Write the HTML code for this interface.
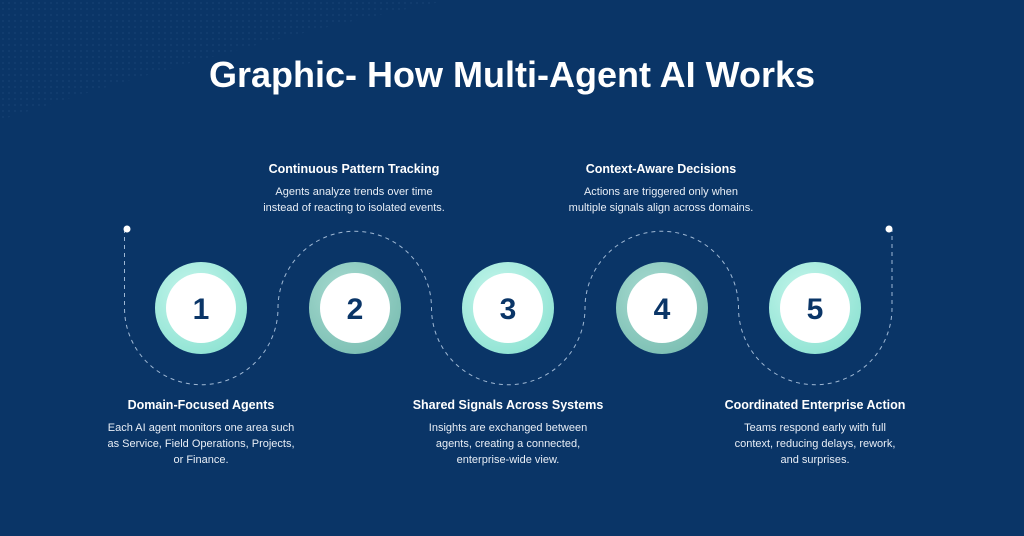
<!DOCTYPE html>
<html><head><style>
body{margin:0;width:1024px;height:536px;overflow:hidden;background:#0a3567;font-family:"Liberation Sans",sans-serif;position:relative}
.t{position:absolute;color:#fff;text-align:center;width:260px}
.t b{display:block;font-size:12.5px;margin-bottom:8px}
.t span{font-size:11px;line-height:16px;color:#e8eef6;display:block}
h1{position:absolute;top:54px;left:0;width:1024px;text-align:center;color:#fff;font-size:36px;margin:0;font-weight:bold}
</style></head><body>
<svg width="1024" height="536" style="position:absolute;left:0;top:0">
<defs>
<radialGradient id="g1" cx="0.4" cy="0.35" r="0.7"><stop offset="0" stop-color="#c6f6ec"/><stop offset="1" stop-color="#8fe3d3"/></radialGradient>
<radialGradient id="g2" cx="0.4" cy="0.35" r="0.7"><stop offset="0" stop-color="#a9dcd2"/><stop offset="1" stop-color="#7cbfb3"/></radialGradient>
<pattern id="dots" width="6" height="6" patternUnits="userSpaceOnUse"><circle cx="3" cy="3" r="1" fill="#1f4a7c"/></pattern>
</defs>
<path d="M0,0 H450 Q250,40 0,120 Z" fill="url(#dots)" opacity="0.45"/>
<path d="M124.5,229 V308 A76.75,76.75 0 0 0 278,308 A76.75,76.75 0 0 1 431.5,308 A76.75,76.75 0 0 0 585,308 A76.75,76.75 0 0 1 738.5,308 A76.75,76.75 0 0 0 892,308 V229" fill="none" stroke="#9fb8d4" stroke-width="1" stroke-dasharray="4,4"/>
<circle cx="127" cy="229" r="3.5" fill="#fff"/>
<circle cx="889" cy="229" r="3.5" fill="#fff"/>
<g font-family="Liberation Sans" font-weight="bold" font-size="30" fill="#0a3567" text-anchor="middle">
<circle cx="201" cy="308" r="46" fill="url(#g1)"/><circle cx="201" cy="308" r="35" fill="#fff"/><text x="201" y="319">1</text>
<circle cx="355" cy="308" r="46" fill="url(#g2)"/><circle cx="355" cy="308" r="35" fill="#fff"/><text x="355" y="319">2</text>
<circle cx="508" cy="308" r="46" fill="url(#g1)"/><circle cx="508" cy="308" r="35" fill="#fff"/><text x="508" y="319">3</text>
<circle cx="662" cy="308" r="46" fill="url(#g2)"/><circle cx="662" cy="308" r="35" fill="#fff"/><text x="662" y="319">4</text>
<circle cx="815" cy="308" r="46" fill="url(#g1)"/><circle cx="815" cy="308" r="35" fill="#fff"/><text x="815" y="319">5</text>
</g>
</svg>
<h1>Graphic- How Multi-Agent AI Works</h1>
<div class="t" style="left:224px;top:162px"><b>Continuous Pattern Tracking</b><span>Agents analyze trends over time<br>instead of reacting to isolated events.</span></div>
<div class="t" style="left:531px;top:162px"><b>Context-Aware Decisions</b><span>Actions are triggered only when<br>multiple signals align across domains.</span></div>
<div class="t" style="left:71px;top:398px"><b>Domain-Focused Agents</b><span>Each AI agent monitors one area such<br>as Service, Field Operations, Projects,<br>or Finance.</span></div>
<div class="t" style="left:378px;top:398px"><b>Shared Signals Across Systems</b><span>Insights are exchanged between<br>agents, creating a connected,<br>enterprise-wide view.</span></div>
<div class="t" style="left:685px;top:398px"><b>Coordinated Enterprise Action</b><span>Teams respond early with full<br>context, reducing delays, rework,<br>and surprises.</span></div>
</body></html>
